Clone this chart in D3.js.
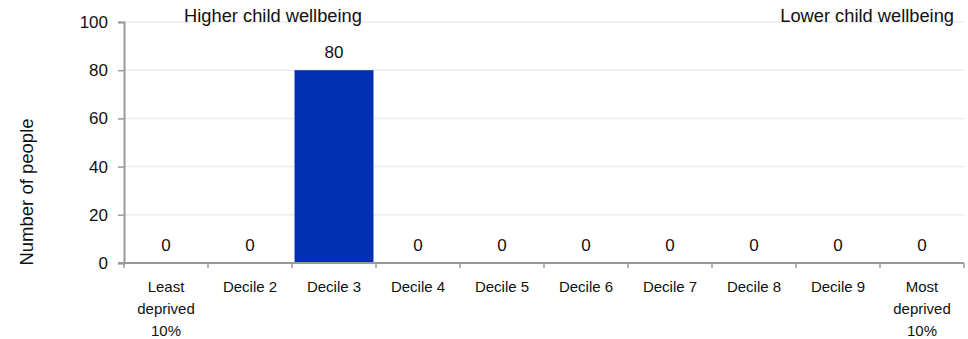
<!DOCTYPE html>
<html>
<head>
<meta charset="utf-8">
<script src="https://cdn.jsdelivr.net/npm/d3@7"></script>
<style>
  html, body { margin: 0; padding: 0; background: #fff; }
  svg { display: block; font-family: "Liberation Sans", Arial, sans-serif; }
</style>
</head>
<body>
<svg id="chart" width="968" height="339"></svg>
<script>
const categories = [
  ["Least", "deprived", "10%"],
  ["Decile 2"], ["Decile 3"], ["Decile 4"], ["Decile 5"],
  ["Decile 6"], ["Decile 7"], ["Decile 8"], ["Decile 9"],
  ["Most", "deprived", "10%"]
];
const values = [0, 0, 80, 0, 0, 0, 0, 0, 0, 0];
const yTicks = [0, 20, 40, 60, 80, 100];
const yTitle = "Number of people";
const leftNote = "Higher child wellbeing";
const rightNote = "Lower child wellbeing";

const svg = d3.select("#chart");
const margin = { left: 124, right: 4, top: 22, bottom: 76 };
const W = 968, H = 339;

const keys = categories.map((c, i) => "c" + i);
const x = d3.scaleBand().domain(keys).range([margin.left, W - margin.right])
  .paddingInner(0.06).paddingOuter(0.03);
const y = d3.scaleLinear().domain([0, 100]).range([H - margin.bottom, margin.top]);

// gridlines
svg.append("g").selectAll("line").data(yTicks.filter(d => d > 0)).join("line")
  .attr("x1", margin.left).attr("x2", W - margin.right)
  .attr("y1", d => y(d)).attr("y2", d => y(d))
  .attr("stroke", "#ececec").attr("stroke-width", 1.5);

// bars
svg.append("g").selectAll("rect").data(values).join("rect")
  .attr("x", (d, i) => x(keys[i]))
  .attr("width", x.bandwidth())
  .attr("y", d => y(d))
  .attr("height", d => y(0) - y(d))
  .attr("fill", "#0330b2");

// y axis
const yAxis = svg.append("g").attr("transform", `translate(${margin.left},0)`)
  .call(d3.axisLeft(y).tickValues(yTicks).tickSize(6).tickPadding(10));
yAxis.select(".domain").attr("stroke", "#9a9a9a").attr("stroke-width", 2);
yAxis.selectAll(".tick line").attr("stroke", "#9a9a9a").attr("stroke-width", 1.5);
yAxis.selectAll(".tick text").attr("font-size", 17).attr("fill", "#111")
  .attr("font-family", "Liberation Sans, Arial, sans-serif");

// x axis
const xOuter = d3.scaleLinear().domain([0, categories.length]).range([margin.left, W - margin.right]);
const xAxisG = svg.append("g");
xAxisG.append("line")
  .attr("x1", margin.left - 6).attr("x2", W - margin.right)
  .attr("y1", y(0)).attr("y2", y(0))
  .attr("stroke", "#9a9a9a").attr("stroke-width", 2);
xAxisG.selectAll("line.tk").data(d3.range(categories.length + 1)).join("line")
  .attr("class", "tk")
  .attr("x1", d => xOuter(d)).attr("x2", d => xOuter(d))
  .attr("y1", y(0)).attr("y2", y(0) + 5)
  .attr("stroke", "#9a9a9a").attr("stroke-width", 1.5);

// category labels
const labG = svg.append("g");
categories.forEach((lines, i) => {
  const t = labG.append("text")
    .attr("x", x(keys[i]) + x.bandwidth() / 2)
    .attr("y", 292)
    .attr("text-anchor", "middle")
    .attr("font-size", 15).attr("fill", "#111");
  lines.forEach((ln, j) => {
    t.append("tspan").attr("x", x(keys[i]) + x.bandwidth() / 2)
      .attr("dy", j === 0 ? 0 : 22).text(ln);
  });
});

// value labels
svg.append("g").selectAll("text").data(values).join("text")
  .attr("x", (d, i) => x(keys[i]) + x.bandwidth() / 2)
  .attr("y", d => y(d) - 12)
  .attr("text-anchor", "middle")
  .attr("font-size", 17).attr("fill", "#111")
  .text(d => d);

// y title
svg.append("text")
  .attr("transform", `translate(33,192) rotate(-90)`)
  .attr("text-anchor", "middle")
  .attr("font-size", 18.5).attr("fill", "#111")
  .text(yTitle);

// notes
svg.append("text").attr("x", 273).attr("y", 22).attr("text-anchor", "middle")
  .attr("font-size", 18.3).attr("fill", "#111").text(leftNote);
svg.append("text").attr("x", 954).attr("y", 22).attr("text-anchor", "end")
  .attr("font-size", 18.3).attr("fill", "#111").text(rightNote);
</script>
</body>
</html>
